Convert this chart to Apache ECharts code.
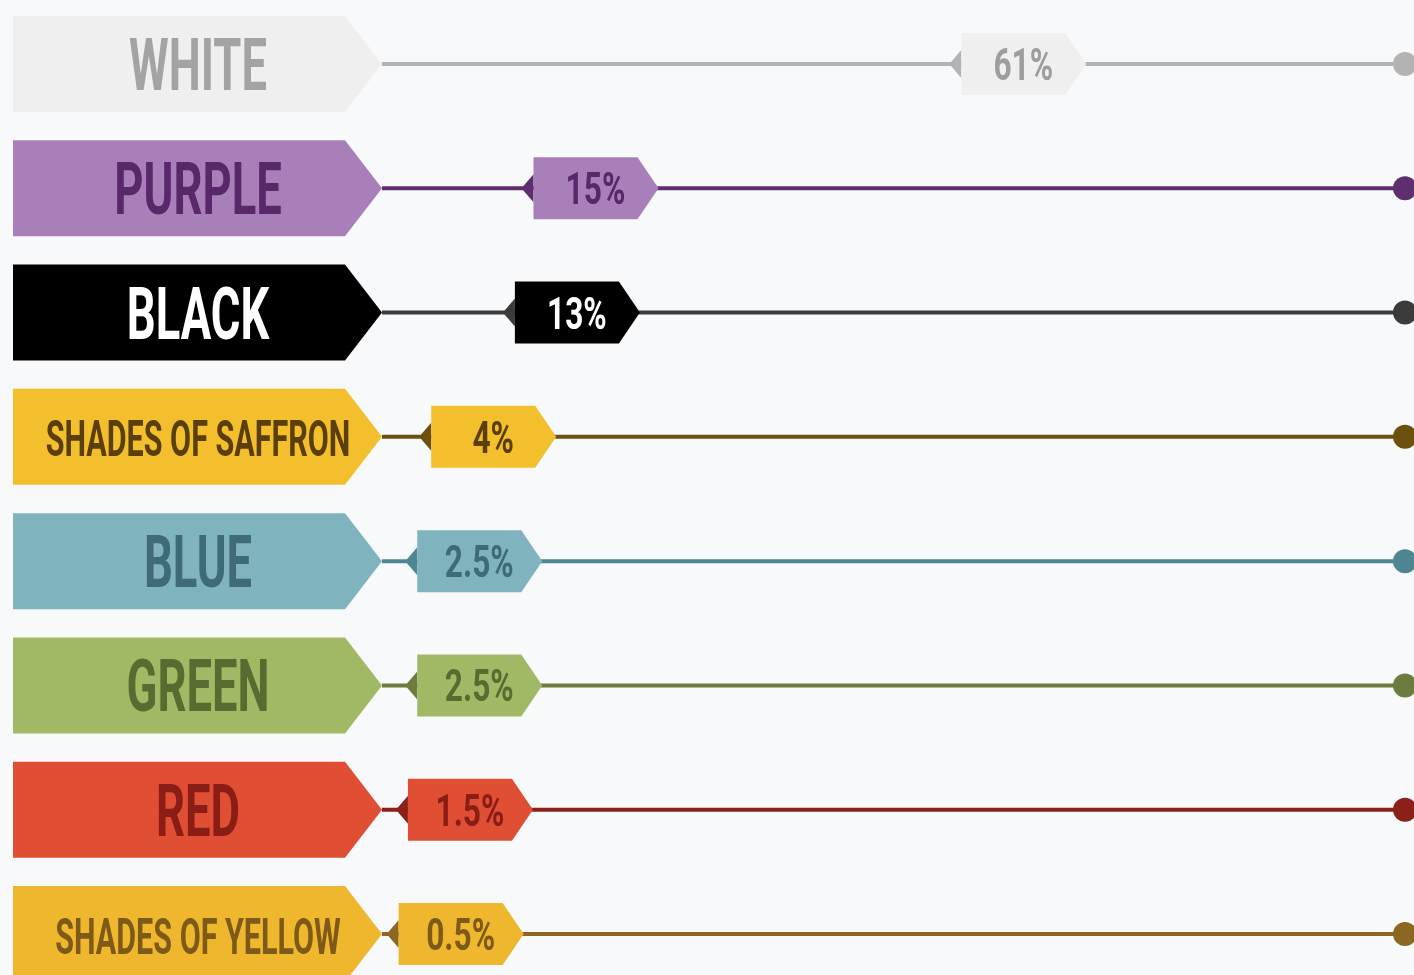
<!DOCTYPE html>
<html><head><meta charset="utf-8">
<script src="https://cdn.jsdelivr.net/npm/echarts@6/dist/echarts.min.js"></script>
<style>html,body{margin:0;padding:0;background:#f8f9fb;}#c{width:1414px;height:975px;}</style>
</head><body><div id="c"></div>
<script>
// ---- data ----
const categories = ['WHITE', 'PURPLE', 'BLACK', 'SHADES OF SAFFRON', 'BLUE', 'GREEN', 'RED', 'SHADES OF YELLOW'];
const shares = [61, 15, 13, 4, 2.5, 2.5, 1.5, 0.5];
const shareLabels = ['61%', '15%', '13%', '4%', '2.5%', '2.5%', '1.5%', '0.5%'];

// ---- styles ----
const boxColors  = ['#efefef', '#a97fba', '#000000', '#f4bf2d', '#7fb3bd', '#a1b965', '#e04e33', '#efb72d'];
const textColors = ['#a3a3a3', '#58286a', '#ffffff', '#5a3f0c', '#3e6b75', '#586b31', '#8a1d16', '#7e5a18'];
const lineColors = ['#b3b3b3', '#5e2e6e', '#3b3b3b', '#6b500f', '#4e8791', '#6b7c3c', '#8b2119', '#8c6722'];
const tagTextColors = ['#9d9d9d', '#58286a', '#ffffff', '#5a3f0c', '#3e6b75', '#586b31', '#8a1d16', '#7e5a18'];
const AXIS_MAX = 110;

function renderItem(params, api) {
  const i = api.value(1);
  const v = api.value(0);
  const start = api.coord([0, i]);
  const end = api.coord([AXIS_MAX, i]);
  const tip = api.coord([v, i]);
  const y = start[1];
  const x0 = start[0];
  const halfH = 48, arrow = 37, boxW = 369;
  const name = categories[i];
  const big = name.length <= 8;
  const fs = big ? 72 : 50;
  const tx = tip[0];
  const triW = 12, triH = 14, bodyW = 104, pointW = 21, tagH = 31;
  const bx = tx + triW;
  return {
    type: 'group',
    children: [
      { type: 'line', shape: { x1: x0, y1: y, x2: end[0], y2: y },
        style: { stroke: lineColors[i], lineWidth: 4 } },
      { type: 'circle', shape: { cx: end[0], cy: y, r: 12 },
        style: { fill: lineColors[i] } },
      { type: 'polygon', shape: { points: [[x0 - boxW, y - halfH], [x0 - arrow, y - halfH], [x0, y], [x0 - arrow, y + halfH], [x0 - boxW, y + halfH]] },
        style: { fill: boxColors[i] } },
      { type: 'text', x: x0 - 184, y: y + (big ? 8 : 7), scaleX: big ? 0.63 : 0.61,
        style: { text: name, fill: textColors[i], font: 'bold ' + fs + 'px Roboto', align: 'center', verticalAlign: 'middle' } },
      { type: 'polygon', shape: { points: [[tx, y], [bx, y - triH], [bx, y + triH]] },
        style: { fill: lineColors[i] } },
      { type: 'polygon', shape: { points: [[bx, y - tagH], [bx + bodyW, y - tagH], [bx + bodyW + pointW, y], [bx + bodyW, y + tagH], [bx, y + tagH]] },
        style: { fill: boxColors[i] } },
      { type: 'text', x: bx + 62, y: y + 5, scaleX: 0.72,
        style: { text: shareLabels[i], fill: tagTextColors[i], font: 'bold 44px Roboto', align: 'center', verticalAlign: 'middle' } }
    ]
  };
}

const chart = echarts.init(document.getElementById('c'));
chart.setOption({
  backgroundColor: '#f8f9fb',
  animation: false,
  grid: { left: 382, right: 9, top: 64, bottom: 41 },
  xAxis: { type: 'value', min: 0, max: AXIS_MAX, show: false },
  yAxis: { type: 'category', data: categories, inverse: true, boundaryGap: false, show: false },
  series: [{
    type: 'custom',
    clip: false,
    renderItem: renderItem,
    data: shares.map((v, i) => [v, i])
  }]
});
</script>
</body></html>
